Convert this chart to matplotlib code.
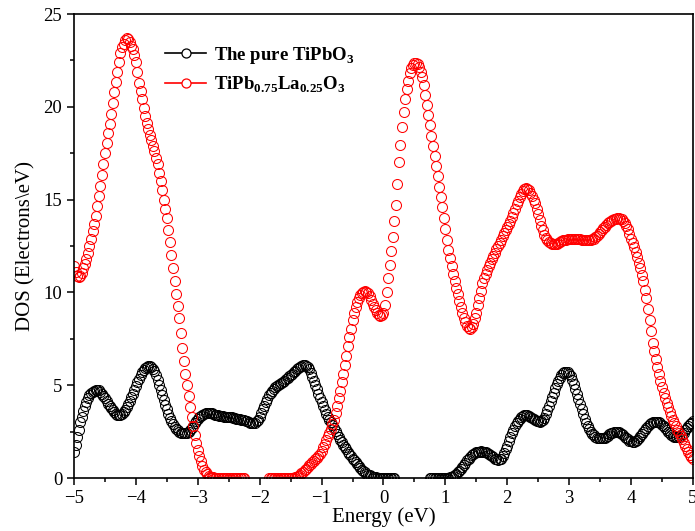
import numpy as np
import matplotlib
matplotlib.use('Agg')
import matplotlib.pyplot as plt
from matplotlib.lines import Line2D
from matplotlib.ticker import MultipleLocator

nan = np.nan

# energy grid (eV), 0.025 eV steps
energy = np.round(np.linspace(-5, 5, 401), 3)

# pure TiPbO3
dos_pure = [
    1.4, 1.8, 2.2, 2.6, 3.0, 3.3, 3.6, 3.87, 4.1, 4.3,
    4.45, 4.56, 4.65, 4.7, 4.73, 4.74, 4.72, 4.65, 4.55, 4.43,
    4.3, 4.15, 4.0, 3.87, 3.75, 3.64, 3.55, 3.47, 3.42, 3.4,
    3.42, 3.47, 3.55, 3.66, 3.8, 3.97, 4.15, 4.35, 4.55, 4.75,
    4.95, 5.15, 5.35, 5.53, 5.7, 5.83, 5.92, 5.99, 6.02, 6.03,
    6.0, 5.9, 5.75, 5.54, 5.3, 5.03, 4.75, 4.47, 4.2, 3.94,
    3.7, 3.47, 3.25, 3.06, 2.9, 2.76, 2.65, 2.56, 2.5, 2.45,
    2.42, 2.41, 2.42, 2.45, 2.5, 2.59, 2.7, 2.82, 2.95, 3.08,
    3.2, 3.28, 3.35, 3.41, 3.45, 3.48, 3.5, 3.5, 3.5, 3.48,
    3.45, 3.42, 3.4, 3.37, 3.35, 3.33, 3.32, 3.31, 3.3, 3.3,
    3.3, 3.29, 3.27, 3.25, 3.22, 3.2, 3.18, 3.17, 3.15, 3.13,
    3.1, 3.08, 3.05, 3.01, 2.98, 2.96, 2.95, 2.98, 3.05, 3.15,
    3.3, 3.5, 3.7, 3.9, 4.1, 4.28, 4.45, 4.59, 4.7, 4.8,
    4.88, 4.94, 5.0, 5.06, 5.12, 5.18, 5.25, 5.32, 5.4, 5.47,
    5.55, 5.62, 5.7, 5.77, 5.85, 5.93, 6.0, 6.05, 6.07, 6.07,
    6.05, 5.97, 5.85, 5.67, 5.45, 5.23, 5.0, 4.78, 4.55, 4.32,
    4.1, 3.87, 3.65, 3.47, 3.3, 3.15, 3.0, 2.85, 2.7, 2.52,
    2.35, 2.2, 2.05, 1.92, 1.8, 1.67, 1.55, 1.42, 1.3, 1.17,
    1.05, 0.95, 0.85, 0.75, 0.65, 0.55, 0.45, 0.37, 0.3, 0.24,
    0.18, 0.14, 0.1, 0.07, 0.05, 0.03, 0.02, 0.01, 0.01, 0.0,
    0.0, 0.0, 0.0, 0.0, 0.0, 0.0, 0.0, 0.0, nan, nan,
    nan, nan, nan, nan, nan, nan, nan, nan, nan, nan,
    nan, nan, nan, nan, nan, nan, nan, nan, nan, nan,
    0.0, 0.0, 0.0, 0.0, 0.0, 0.0, 0.0, 0.0, 0.0, 0.0,
    0.0, 0.01, 0.02, 0.04, 0.06, 0.1, 0.15, 0.22, 0.3, 0.4,
    0.5, 0.61, 0.72, 0.83, 0.95, 1.05, 1.15, 1.23, 1.3, 1.35,
    1.38, 1.4, 1.42, 1.43, 1.42, 1.4, 1.38, 1.34, 1.3, 1.24,
    1.18, 1.11, 1.05, 1.0, 0.98, 1.0, 1.05, 1.18, 1.35, 1.55,
    1.75, 1.97, 2.2, 2.4, 2.6, 2.78, 2.95, 3.08, 3.2, 3.28,
    3.35, 3.37, 3.38, 3.37, 3.35, 3.3, 3.25, 3.18, 3.12, 3.08,
    3.05, 3.04, 3.05, 3.12, 3.25, 3.43, 3.65, 3.9, 4.15, 4.38,
    4.6, 4.83, 5.05, 5.23, 5.4, 5.53, 5.65, 5.7, 5.72, 5.69,
    5.62, 5.48, 5.3, 5.06, 4.8, 4.53, 4.25, 3.97, 3.7, 3.44,
    3.2, 2.99, 2.8, 2.64, 2.5, 2.39, 2.3, 2.23, 2.18, 2.15,
    2.13, 2.13, 2.15, 2.18, 2.22, 2.28, 2.35, 2.4, 2.45, 2.48,
    2.5, 2.5, 2.48, 2.44, 2.38, 2.3, 2.22, 2.15, 2.08, 2.02,
    1.98, 1.96, 1.96, 1.99, 2.05, 2.14, 2.25, 2.37, 2.5, 2.61,
    2.72, 2.82, 2.9, 2.96, 3.0, 3.02, 3.03, 3.02, 3.0, 2.95,
    2.88, 2.8, 2.7, 2.6, 2.5, 2.4, 2.32, 2.26, 2.22, 2.2,
    2.2, 2.23, 2.28, 2.36, 2.45, 2.56, 2.68, 2.8, 2.9, 2.98,
    3.05,
]

# TiPb0.75La0.25O3
dos_la = [
    11.4, 11.1, 10.9, 10.85, 10.9, 11.05, 11.3, 11.55, 11.8, 12.15,
    12.5, 12.9, 13.3, 13.7, 14.1, 14.65, 15.2, 15.75, 16.3, 16.9,
    17.5, 18.05, 18.6, 19.1, 19.6, 20.2, 20.8, 21.35, 21.9, 22.4,
    22.9, 23.2, 23.4, 23.6, 23.7, 23.65, 23.5, 23.3, 23.1, 22.8,
    22.4, 21.85, 21.3, 20.85, 20.4, 19.95, 19.5, 19.15, 18.8, 18.5,
    18.2, 17.9, 17.6, 17.25, 16.9, 16.45, 16.0, 15.5, 15.0, 14.5,
    14.0, 13.35, 12.7, 12.0, 11.3, 10.6, 9.9, 9.25, 8.6, 7.8,
    7.0, 6.3, 5.6, 5.0, 4.4, 3.85, 3.3, 2.8, 2.3, 1.9,
    1.5, 1.2, 0.9, 0.65, 0.45, 0.3, 0.2, 0.13, 0.08, 0.05,
    0.03, 0.02, 0.01, 0.0, 0.0, 0.0, 0.0, 0.0, 0.0, 0.0,
    0.0, 0.0, 0.0, 0.0, 0.0, 0.0, 0.0, 0.0, 0.0, 0.0,
    0.0, nan, nan, nan, nan, nan, nan, nan, nan, nan,
    nan, nan, nan, nan, nan, nan, 0.0, 0.0, 0.0, 0.0,
    0.0, 0.0, 0.0, 0.0, 0.0, 0.0, 0.0, 0.0, 0.0, 0.0, 0.0,
    0.01, 0.02,
    0.05, 0.08, 0.12, 0.18, 0.25, 0.32, 0.41, 0.5, 0.59, 0.68,
    0.77, 0.85, 0.92, 1.0, 1.1, 1.2, 1.32, 1.45, 1.65, 1.85,
    2.05, 2.25, 2.45, 2.65, 2.9, 3.15, 3.5, 3.9, 4.3, 4.7,
    5.15, 5.6, 6.1, 6.6, 7.1, 7.6, 8.05, 8.5, 8.9, 9.2,
    9.48, 9.7, 9.85, 9.95, 10.02, 10.05, 10.02, 9.95, 9.8, 9.6,
    9.4, 9.2, 9.05, 8.9, 8.8, 8.75, 8.78, 8.9, 9.3, 10.0,
    10.75, 11.5, 12.25, 13.0, 13.85, 14.7, 15.85, 17.0, 17.95, 18.9,
    19.7, 20.4, 20.95, 21.4, 21.8, 22.1, 22.25, 22.35, 22.38, 22.3,
    22.15, 21.9, 21.6, 21.2, 20.65, 20.1, 19.55, 19.0, 18.45, 17.9,
    17.35, 16.8, 16.25, 15.7, 15.15, 14.6, 14.0, 13.4, 12.85, 12.3,
    11.85, 11.4, 11.0, 10.6, 10.25, 9.9, 9.55, 9.2, 8.9, 8.6,
    8.38, 8.2, 8.1, 8.05, 8.12, 8.3, 8.6, 8.9, 9.3, 9.7,
    10.1, 10.5, 10.75, 11.0, 11.2, 11.4, 11.6, 11.8, 11.98, 12.15,
    12.33, 12.5, 12.68, 12.85, 13.03, 13.2, 13.35, 13.5, 13.68, 13.85,
    14.05, 14.3, 14.52, 14.75, 14.95, 15.15, 15.3, 15.45, 15.55, 15.6,
    15.57, 15.5, 15.37, 15.2, 15.0, 14.8, 14.5, 14.2, 13.9, 13.6,
    13.35, 13.1, 12.95, 12.8, 12.72, 12.65, 12.62, 12.6, 12.6, 12.62,
    12.66, 12.7, 12.75, 12.8, 12.83, 12.85, 12.88, 12.9, 12.9, 12.9,
    12.9, 12.9, 12.89, 12.88, 12.86, 12.85, 12.83, 12.82, 12.8, 12.8,
    12.8, 12.82, 12.86, 12.9, 12.97, 13.05, 13.15, 13.25, 13.35, 13.45,
    13.55, 13.65, 13.73, 13.8, 13.86, 13.92, 13.95, 13.98, 14.0, 14.0,
    13.98, 13.95, 13.87, 13.75, 13.6, 13.4, 13.15, 12.9, 12.68, 12.45,
    12.2, 11.9, 11.6, 11.3, 10.95, 10.6, 10.15, 9.7, 9.1, 8.5,
    7.9, 7.3, 6.85, 6.4, 6.0, 5.6, 5.25, 4.9, 4.6, 4.3,
    4.05, 3.8, 3.58, 3.35, 3.15, 2.95, 2.78, 2.6, 2.43, 2.25,
    2.08, 1.9, 1.72, 1.55, 1.4, 1.25, 1.13, 1.05,
]

labels = ['The pure TiPbO$_\\mathbf{3}$',
          'TiPb$_\\mathbf{0.75}$La$_\\mathbf{0.25}$O$_\\mathbf{3}$']
colors = ['black', 'red']

plt.rcParams['font.family'] = ['Liberation Serif']
plt.rcParams['mathtext.fontset'] = 'custom'
plt.rcParams['mathtext.rm'] = 'Liberation Serif'
plt.rcParams['mathtext.bf'] = 'Liberation Serif:bold'

fig = plt.figure(figsize=(6.95, 5.31), dpi=100)
ax = fig.add_axes([0.1065, 0.0998, 0.8905, 0.8738])

# open circles only, like the original symbol plot
ax.plot(energy, dos_pure, ls='none', marker='o', ms=7.2, mfc='none',
        mec=colors[0], mew=0.75)
ax.plot(energy, dos_la, ls='none', marker='o', ms=7.2, mfc='none',
        mec=colors[1], mew=0.75)

ax.set_xlim(-5, 5)
ax.set_ylim(0, 25)
ax.xaxis.set_major_locator(MultipleLocator(1))
ax.xaxis.set_minor_locator(MultipleLocator(0.5))
ax.yaxis.set_major_locator(MultipleLocator(5))
ax.yaxis.set_minor_locator(MultipleLocator(2.5))
ax.tick_params(which='both', direction='out', top=False, right=False,
               labelsize=13.5, width=1.1)
ax.tick_params(which='major', length=5)
ax.tick_params(which='minor', length=3)
for s in ax.spines.values():
    s.set_linewidth(1.2)

ax.set_xlabel('Energy (eV)', fontsize=15, labelpad=0)
ax.set_ylabel('DOS (Electrons\\eV)', fontsize=15, labelpad=6)

handles = [Line2D([], [], color=c, lw=1.2, marker='o', ms=6.5, mfc='white',
                  mec=c, mew=0.9) for c in colors]
ax.legend(handles, labels, loc='upper left', bbox_to_anchor=(0.12, 0.97),
          frameon=False, prop={'weight': 'bold', 'size': 13.5},
          handlelength=2.2, handletextpad=0.4, labelspacing=0.45)

fig.savefig('out.png', dpi=100)
